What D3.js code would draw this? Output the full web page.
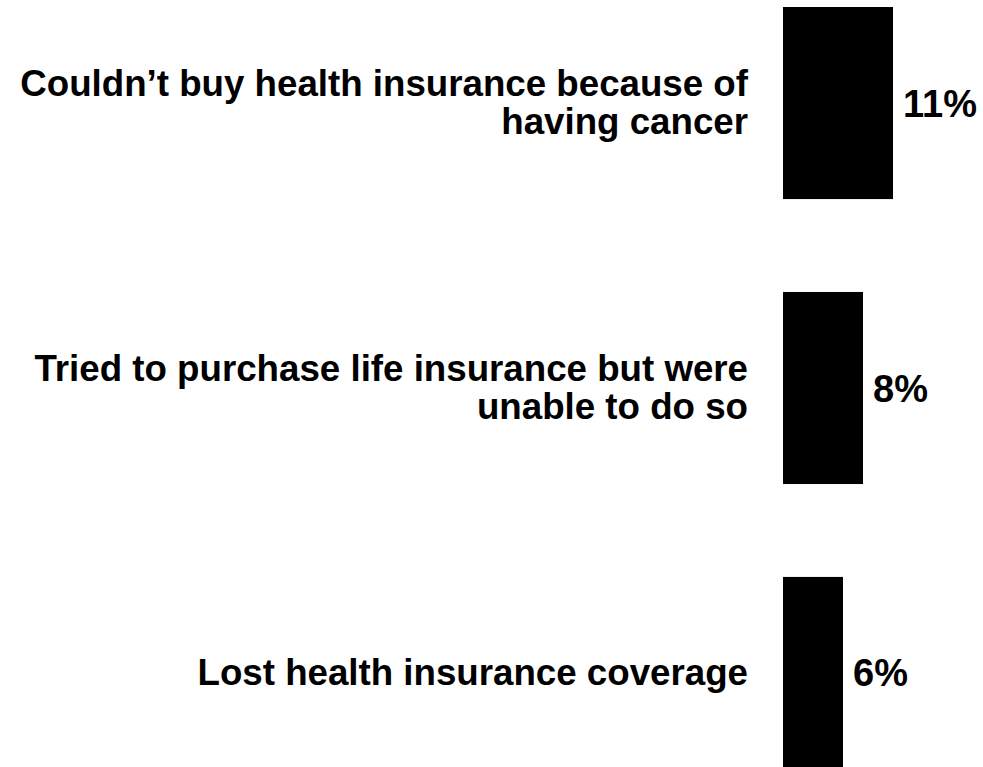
<!DOCTYPE html>
<html>
<head>
<meta charset="utf-8">
<script src="https://cdn.jsdelivr.net/npm/d3@7"></script>
<style>
  body { margin: 0; background: #fff; }
  svg text { font-family: "Liberation Sans", Arial, sans-serif; font-weight: bold; fill: #000; }
</style>
</head>
<body>
<div id="chart"></div>
<script>
// Data
const categories = [
    ["Couldn\u2019t buy health insurance because of", "having cancer"],
    ["Tried to purchase life insurance but were", "unable to do so"],
    ["Lost health insurance coverage"]
];
const values = [11, 8, 6];
const valueLabels = ["11%", "8%", "6%"];

// Geometry
let width = 983,
    height = 767;

let svg = d3.select("#chart")
    .append("svg")
    .attr("width", width)
    .attr("height", height);

let idx = d3.range(values.length);

let yScale = d3.scaleBand()
    .domain(idx)
    .range([7, 769])
    .paddingInner(0.326)
    .paddingOuter(0);

let xScale = d3.scaleLinear()
    .domain([0, 20])
    .range([783, 983]);

// Bars
svg.selectAll("rect.bar")
    .data(idx)
    .enter()
    .append("rect")
    .attr("class", "bar")
    .attr("x", xScale(0))
    .attr("y", function (d) { return yScale(d); })
    .attr("width", function (d) { return xScale(values[d]) - xScale(0); })
    .attr("height", yScale.bandwidth())
    .attr("fill", "#000");

// Value labels
svg.selectAll("text.value")
    .data(idx)
    .enter()
    .append("text")
    .attr("class", "value")
    .attr("x", function (d) { return xScale(values[d]) + 10; })
    .attr("y", function (d) { return yScale(d) + yScale.bandwidth() / 2 + 13.5; })
    .attr("font-size", "38px")
    .text(function (d) { return valueLabels[d]; });

// Category labels
let lineHeight = 37.5;
let labels = svg.selectAll("text.cat")
    .data(idx)
    .enter()
    .append("text")
    .attr("class", "cat")
    .attr("text-anchor", "end")
    .attr("font-size", "36.7px");

labels.each(function (d) {
    let lines = categories[d];
    let mid = yScale(d) + yScale.bandwidth() / 2;
    d3.select(this).selectAll("tspan")
        .data(lines)
        .enter()
        .append("tspan")
        .attr("x", 748)
        .attr("y", function (l, i) { return mid + (i - (lines.length - 1) / 2) * lineHeight + 12; })
        .text(function (l) { return l; });
});
</script>
</body>
</html>
